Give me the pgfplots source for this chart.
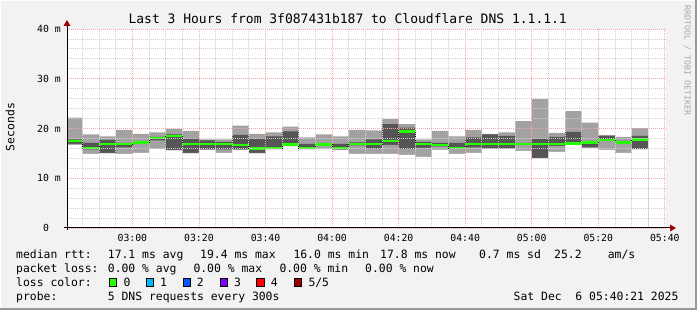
\documentclass[border=0pt]{standalone}
\usepackage{pgfplots}
\pgfplotsset{compat=1.18}
\usepackage{pgfplotstable}
\usepackage{fontspec}
\setmainfont{DejaVu Sans Mono}
\definecolor{bg}{HTML}{F2F2F2}
\definecolor{smokeL}{HTML}{A2A2A2}
\definecolor{smokeD}{HTML}{555555}
\definecolor{medgreen}{HTML}{26FF00}
\definecolor{majgrid}{HTML}{F0A8A8}
\definecolor{mingrid}{HTML}{D0D0D0}
\definecolor{arrowred}{HTML}{A00000}
\definecolor{lc1}{HTML}{00B8FF}
\definecolor{lc2}{HTML}{0059FF}
\definecolor{lc3}{HTML}{7E00FF}
\definecolor{lc4}{HTML}{FF0000}
\definecolor{lc5}{HTML}{A10000}
\definecolor{wm}{HTML}{A8A8A8}

% t = start of 5-minute bin (minutes after midnight); p1..p5 = sorted pings (ms)
\pgfplotstableread{
t   p1   p2   med  p4   p5
160 16.7 16.9 17.5 17.8 22.2
165 14.9 15.8 16.1 17.1 18.8
170 15.0 15.1 16.9 17.7 18.4
175 14.9 16.2 16.9 17.1 19.7
180 15.1 16.9 17.2 17.4 18.9
185 15.9 17.6 18.1 18.3 19.2
190 15.6 15.7 18.5 18.8 19.9
195 15.0 15.1 16.9 17.9 19.5
200 15.7 15.8 16.9 17.6 17.8
205 15.1 15.8 16.9 17.3 17.8
210 15.7 15.8 16.7 18.7 20.6
215 15.0 15.1 16.0 17.9 18.9
220 15.8 16.0 16.1 18.4 19.2
225 16.4 16.5 16.8 19.4 20.4
230 15.8 15.9 16.1 16.9 18.2
235 15.9 16.5 16.8 17.0 18.8
240 15.7 15.8 16.1 16.9 18.4
245 14.9 16.6 16.9 17.2 19.7
250 14.9 16.0 16.9 17.8 19.6
255 14.9 16.7 17.5 20.9 21.9
260 14.7 15.9 19.4 20.2 20.9
265 14.3 16.1 16.9 17.3 17.8
270 15.7 16.4 16.7 17.1 19.5
275 14.9 16.0 16.1 17.1 18.4
280 15.1 16.2 16.9 18.2 19.7
285 15.9 16.0 16.9 18.8 18.9
290 15.9 16.0 16.9 18.5 19.2
295 15.5 16.7 16.9 17.1 21.5
300 14.0 14.1 16.9 17.9 25.9
305 15.3 16.5 16.9 18.3 19.1
310 16.7 16.8 17.0 19.3 23.5
315 16.1 16.2 17.2 17.3 21.2
320 15.7 17.5 17.7 18.5 18.7
325 15.1 16.9 17.2 17.5 18.3
330 15.8 15.9 17.8 18.5 20.1
335 15.8 15.9 17.8 18.5 20.1
}\smoke

\begin{document}
\begin{tikzpicture}
\path[use as bounding box] (0,0) rectangle (697bp,310bp);
\fill[bg] (0,0) rectangle (697bp,310bp);
\draw[white, line width=1bp] (0.5bp,0.5bp) -- (0.5bp,309.5bp) -- (696.5bp,309.5bp);
\draw[black!40, line width=2bp] (0,1bp) -- (696bp,1bp) -- (696bp,310bp);

\begin{axis}[
  at={(67bp,82bp)}, anchor=south west, scale only axis,
  width=599bp, height=199bp,
  xmin=160.35, xmax=340.35, ymin=0, ymax=40,
  axis background/.style={fill=white},
  axis line style={draw=none},
  axis on top,
  xtick={180,200,220,240,260,280,300,320,340},
  xticklabels={03:00,03:20,03:40,04:00,04:20,04:40,05:00,05:20,05:40},
  minor xtick={165,170,175,185,190,195,205,210,215,225,230,235,245,250,255,265,270,275,285,290,295,305,310,315,325,330,335},
  ytick={0,10,20,30,40},
  yticklabels={0\phantom{ m},10 m,20 m,30 m,40 m},
  minor ytick={2,4,6,8,12,14,16,18,22,24,26,28,32,34,36,38},
  grid=both,
  major grid style={majgrid, line width=0.8bp, dash pattern=on 1bp off 1bp},
  minor grid style={mingrid, line width=0.8bp, dash pattern=on 1bp off 1bp},
  major tick length=0pt, minor tick length=0pt,
  xticklabel style={font=\fontsize{9.8bp}{11bp}\selectfont, anchor=base, inner sep=0pt, yshift=-13.2bp},
  yticklabel style={font=\fontsize{9.8bp}{11bp}\selectfont, anchor=east, inner sep=0pt, xshift=-6bp},
  /pgf/number format/assume math mode=true,
  clip=true,
]
% layered smoke: light to p5, dark to p4, light to p2, white to p1
\addplot[fill=smokeL, draw=none, const plot, forget plot] table[x=t,y=p5]{\smoke} \closedcycle;
\addplot[fill=smokeD, draw=none, const plot, forget plot] table[x=t,y=p4]{\smoke} \closedcycle;
\addplot[fill=smokeL, draw=none, const plot, forget plot] table[x=t,y=p2]{\smoke} \closedcycle;
\addplot[fill=white, draw=none, const plot, forget plot] table[x=t,y=p1]{\smoke} \closedcycle;
\addplot[black, const plot, line width=0.8bp, forget plot] table[x=t,y=med]{\smoke};
\addplot[medgreen, jump mark left, line width=2.4bp, forget plot] table[x=t,y=med]{\smoke};
\end{axis}

% axes with arrows
\draw[black, line width=1bp] (64bp,82bp) -- (672bp,82bp);
\draw[black, line width=1bp] (67bp,80bp) -- (67bp,285bp);
\fill[arrowred] (676bp,82bp) -- (670bp,78.5bp) -- (670bp,85.5bp) -- cycle;
\fill[arrowred] (67bp,290bp) -- (63.5bp,284bp) -- (70.5bp,284bp) -- cycle;

% title and labels
\node[anchor=base, inner sep=0pt, font=\fontsize{13bp}{15bp}\selectfont] at (347.7bp,286bp) {Last 3 Hours from 3f087431b187 to Cloudflare DNS 1.1.1.1};
\node[rotate=90, inner sep=0pt, font=\fontsize{11.4bp}{13bp}\selectfont] at (10bp,183bp) {Seconds};
\node[rotate=-90, anchor=west, inner sep=0pt, text=wm, font=\fontsize{8.3bp}{9bp}\selectfont] at (687.3bp,305bp) {RRDTOOL / TOBI OETIKER};

% legend
\begin{scope}[every node/.style={anchor=base west, inner sep=0pt, font=\fontsize{11.4bp}{13bp}\selectfont}]
\node at (16bp,51.5bp) {median rtt:};
\node at (107.7bp,51.5bp) {17.1 ms avg};
\node at (200bp,51.5bp) {19.4 ms max};
\node at (293.3bp,51.5bp) {16.0 ms min};
\node at (380bp,51.5bp) {17.8 ms now};
\node at (479bp,51.5bp) {0.7 ms sd};
\node at (554bp,51.5bp) {25.2};
\node at (607.6bp,51.5bp) {am/s};

\node at (16bp,37.7bp) {packet loss:};
\node at (107.7bp,37.7bp) {0.00 \% avg};
\node at (193.3bp,37.7bp) {0.00 \% max};
\node at (279.3bp,37.7bp) {0.00 \% min};
\node at (365bp,37.7bp) {0.00 \% now};

\node at (16bp,23.9bp) {loss color:};
\node at (123.3bp,23.9bp) {0};
\node at (160bp,23.9bp) {1};
\node at (196.7bp,23.9bp) {2};
\node at (234bp,23.9bp) {3};
\node at (270.7bp,23.9bp) {4};
\node at (308.3bp,23.9bp) {5/5};

\node at (16bp,10bp) {probe:};
\node at (107.7bp,10bp) {5 DNS requests every 300s};
\node at (513.5bp,10bp) {Sat Dec\ \ 6 05:40:21 2025};
\end{scope}
\foreach \xx/\cc in {109/medgreen,146/lc1,183/lc2,220/lc3,256.7/lc4,294/lc5}{
  \filldraw[fill=\cc, draw=black, line width=0.8bp] (\xx bp,23.6bp) rectangle ++(7.6bp,8bp);
}
\end{tikzpicture}
\end{document}
